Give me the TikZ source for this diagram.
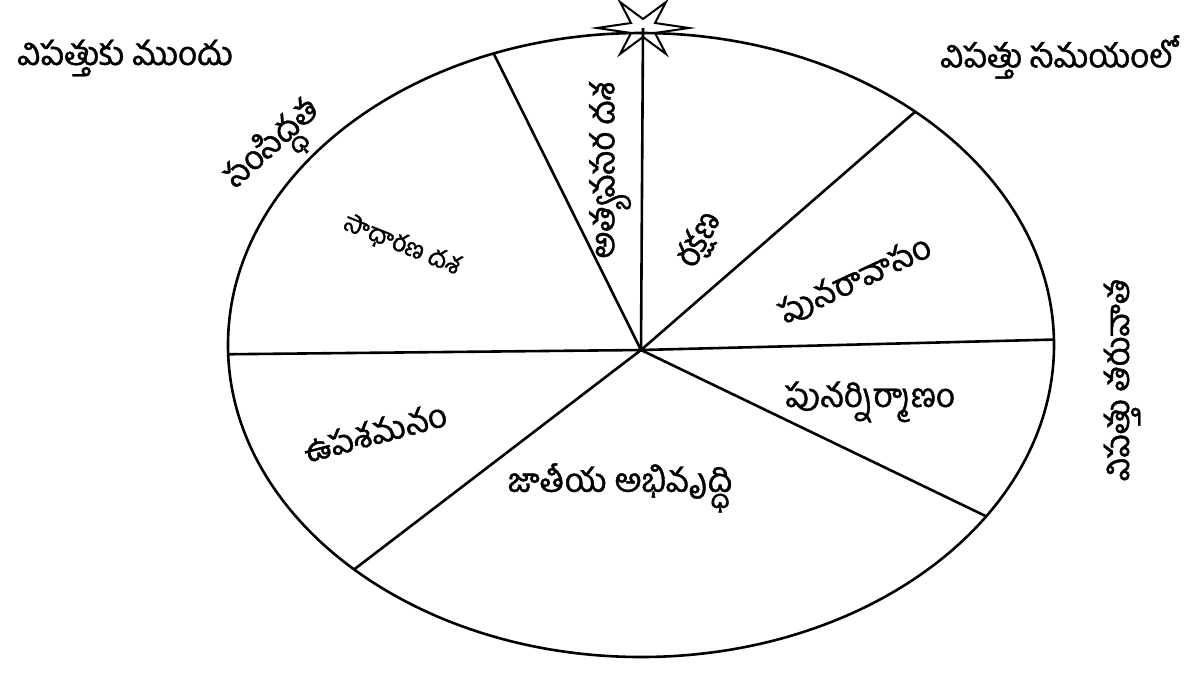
\documentclass[tikz,border=0pt]{standalone}
\usepackage{fontspec}
\newfontfamily\telugu[Script=Telugu, FakeBold=1.2]{Hind Guntur}
\usetikzlibrary{calc}

\begin{document}
\begin{tikzpicture}[x=1pt, y=-1pt, line width=2.6pt,
  lbl/.style={font=\telugu\fontsize{33}{35}\selectfont, inner sep=0pt},
  small/.style={font=\telugu\fontsize{25}{27}\selectfont, inner sep=0pt}]
  \useasboundingbox (0,0) rectangle (1190,673);

  % Ellipse
  \coordinate (c) at (641,345);
  \coordinate (hub) at (641,350);
  \draw (c) ellipse [x radius=413, y radius=312];

  % Star on top
  \coordinate (star) at (643,28);
  \draw[line width=2pt, shift={(star)}] (46,0) -- (12,-5) -- (23,-26) -- (0,-9)
    -- (-23,-26) -- (-12,-5) -- (-46,0) -- (-12,5) -- (-23,26) -- (0,9)
    -- (23,26) -- (12,5) -- cycle;

  % Spokes
  \foreach \t [count=\i] in {-110.9,-48.4,-1,33.3,134,178.3}
    \coordinate (e\i) at ($(c)+(\t:413 and 312)$);
  \draw (hub) -- (star);
  \foreach \i in {1,...,6}
    \draw (hub) -- (e\i);

  % Outer labels
  \node[lbl] (before) at (125,58) {విపత్తుకు ముందు};
  \node[lbl] (during) at (1058,57) {విపత్తు సమయంలో};
  \node[lbl, rotate=90] (after) at (1122,380) {విపత్తు తరువాత};
  \node[lbl, rotate=42] (prep) at (276,148) {సంసిద్ధత};

  % Sector labels
  \node[small, rotate=-22] (normal) at (402,245) {సాధారణ దశ};
  \node[lbl, rotate=90] (emerg) at (610,170) {అత్యవసర దశ};
  \node[lbl, rotate=62] (protect) at (700,240) {రక్షణ};
  \node[lbl, rotate=25] (rehab) at (855,280) {పునరావాసం};
  \node[lbl] (rebuild) at (870,402) {పునర్నిర్మాణం};
  \node[lbl, rotate=15] (relief) at (375,432) {ఉపశమనం};
  \node[lbl] (devel) at (620,488) {జాతీయ అభివృద్ధి};
\end{tikzpicture}
\end{document}
